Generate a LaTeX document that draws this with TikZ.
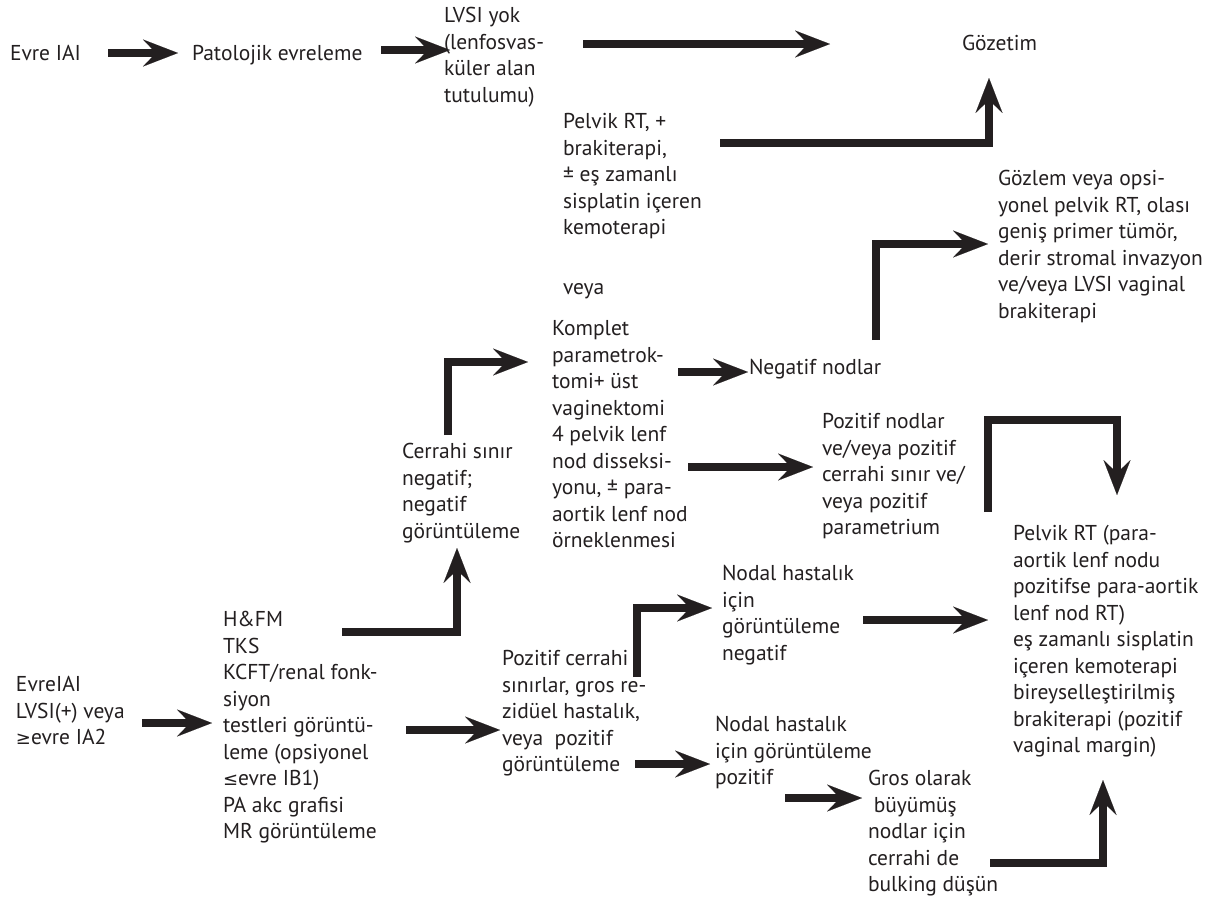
\documentclass[tikz,border=0pt]{standalone}
\usepackage{fontspec}
\setmainfont{PT Sans}
\newfontfamily\symf{DejaVu Sans}
\usetikzlibrary{arrows.meta}
\definecolor{ink}{RGB}{35,31,32}
\newcommand\fs{\fontsize{21.5}{26.5}\selectfont}
\newcommand\gesym{{\symf\fontsize{18}{26.5}\selectfont ≥}}
\newcommand\lesym{{\symf\fontsize{18}{26.5}\selectfont ≤}}
\begin{document}
\begin{tikzpicture}[x=1pt,y=-1pt,
  txt/.style={anchor=north west, inner sep=0pt, outer sep=0pt, align=left, font=\fs, text=ink, execute at begin node=\strut},
  arr/.style={draw=ink, line width=8pt, line join=miter, -{Stealth[length=35pt,width=27pt,inset=13pt,line width=0.1pt]}}
]
\useasboundingbox (0,0) rectangle (1220,898);

% text blocks
\node[txt] (e1)   at (10,41.5)   {Evre IAI};
\node[txt] (pe)   at (192,41.5)  {Patolojik evreleme};
\node[txt] (lv)   at (444,7.5)   {LVSI yok\\(lenfosvas-\\küler alan\\tutulumu)};
\node[txt] (gz)   at (962,31.5)  {Gözetim};
\node[txt] (pr)   at (563,113.5) {Pelvik RT, +\\brakiterapi,\\± eş zamanlı\\sisplatin içeren\\kemoterapi};
\node[txt] (veya) at (563,275.5) {veya};
\node[txt] (gl)   at (998,170.5) {Gözlem veya opsi-\\yonel pelvik RT, olası\\geniş primer tümör,\\derir stromal invazyon\\ve/veya LVSI vaginal\\brakiterapi};
\node[txt] (kp)   at (552,320.5) {Komplet\\parametrok-\\tomi+ üst\\vaginektomi\\4 pelvik lenf\\nod disseksi-\\yonu, ± para-\\aortik lenf nod\\örneklenmesi};
\node[txt] (nn)   at (749,355.5) {Negatif nodlar};
\node[txt] (cs)   at (402,443.5) {Cerrahi sınır\\negatif;\\negatif\\görüntüleme};
\node[txt] (pn)   at (822,413.5) {Pozitif nodlar\\ve/veya pozitif\\cerrahi sınır ve/\\veya pozitif\\parametrium};
\node[txt] (prt)  at (1013,525.5) {Pelvik RT (para-\\aortik lenf nodu\\pozitifse para-aortik\\lenf nod RT)\\eş zamanlı sisplatin\\içeren kemoterapi\\bireyselleştirilmiş\\brakiterapi (pozitif\\vaginal margin)};
\node[txt] (e2)   at (16,676.5)  {EvreIAI\\LVSI(+) veya\\\gesym evre IA2};
\node[txt] (hf)   at (223,611.5) {H\&FM\\TKS\\KCFT/renal fonk-\\siyon\\testleri görüntü-\\leme (opsiyonel\\\lesym evre IB1)\\PA akc grafisi\\MR görüntüleme};
\node[txt] (pc)   at (502,650.5) {Pozitif cerrahi\\sınırlar, gros re-\\zidüel hastalık,\\veya~ pozitif\\görüntüleme};
\node[txt] (nd1)  at (722,565.5) {Nodal hastalık\\için\\görüntüleme\\negatif};
\node[txt] (nd2)  at (715,716.5) {Nodal hastalık\\için görüntüleme\\pozitif};
\node[txt] (gr)   at (868,770.5) {Gros olarak\\~büyümüş\\nodlar için\\cerrahi de\\bulking düşün};

% connector end points
\coordinate (a1s) at (108,53);  \coordinate (a1e) at (178,53);
\coordinate (a2s) at (381,50);  \coordinate (a2e) at (450,50);
\coordinate (a3s) at (583,44);  \coordinate (a3e) at (830,44);
\coordinate (a4s) at (720,143); \coordinate (a4e) at (989,78);
\coordinate (a5s) at (876,340); \coordinate (a5e) at (988,244);
\coordinate (a6s) at (678,372); \coordinate (a6e) at (748,372);
\coordinate (a7s) at (688,467); \coordinate (a7e) at (813,467);
\coordinate (a8s) at (448,435); \coordinate (a8e) at (528,362);
\coordinate (a9s) at (342,632); \coordinate (a9e) at (457,548);
\coordinate (a10s) at (142,723); \coordinate (a10e) at (212,723);
\coordinate (a11s) at (406,730); \coordinate (a11e) at (500,730);
\coordinate (a12s) at (637,677); \coordinate (a12e) at (712,608);
\coordinate (a13s) at (635,764); \coordinate (a13e) at (710,764);
\coordinate (a14s) at (785,798); \coordinate (a14e) at (862,798);
\coordinate (a15s) at (863,620); \coordinate (a15e) at (988,620);
\coordinate (a16s) at (988,512); \coordinate (a16e) at (1117,495);
\coordinate (a17s) at (990,863); \coordinate (a17e) at (1103,780);

% connectors
\draw[arr] (a1s) -- (a1e);
\draw[arr] (a2s) -- (a2e);
\draw[arr] (a3s) -- (a3e);
\draw[arr] (a4s) -| (a4e);
\draw[arr] (a5s) |- (a5e);
\draw[arr] (a6s) -- (a6e);
\draw[arr] (a7s) -- (a7e);
\draw[arr] (a8s) |- (a8e);
\draw[arr] (a9s) -| (a9e);
\draw[arr] (a10s) -- (a10e);
\draw[arr] (a11s) -- (a11e);
\draw[arr] (a12s) |- (a12e);
\draw[arr] (a13s) -- (a13e);
\draw[arr] (a14s) -- (a14e);
\draw[arr] (a15s) -- (a15e);
\draw[arr] (a16s) -- (988,420) -- (1117,420) -- (a16e);
\draw[arr] (a17s) -| (a17e);
\end{tikzpicture}
\end{document}
